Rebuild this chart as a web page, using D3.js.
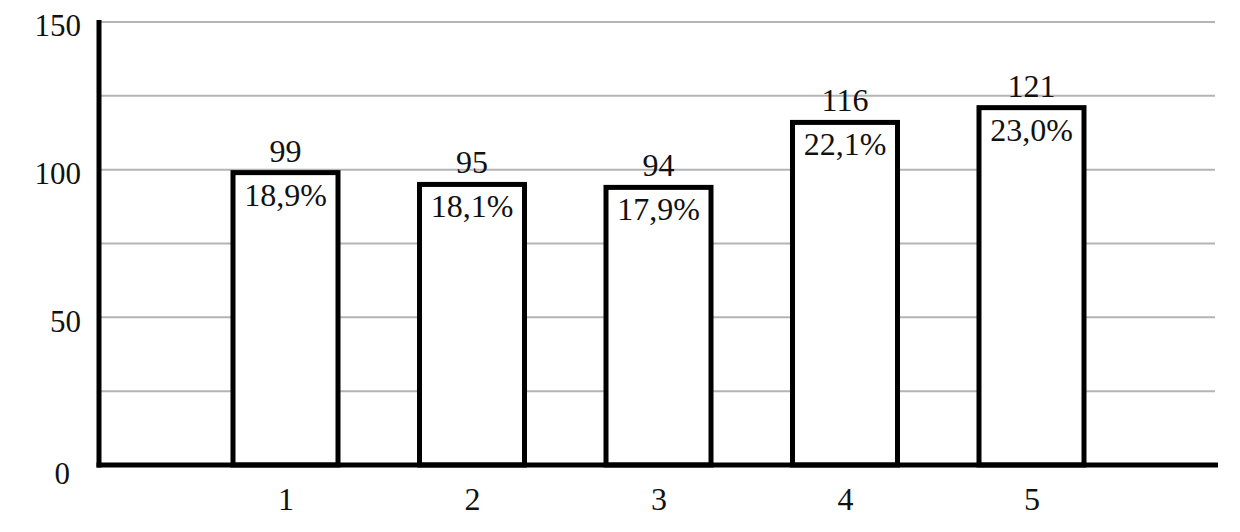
<!DOCTYPE html>
<html>
<head>
<meta charset="utf-8">
<script src="https://cdn.jsdelivr.net/npm/d3@7"></script>
<style>
  body { margin: 0; background: #fff; }
</style>
</head>
<body>
<div id="chart"></div>
<script>
// data
var categories = [1, 2, 3, 4, 5];
var values = [99, 95, 94, 116, 121];
var shares = ["18,9%", "18,1%", "17,9%", "22,1%", "23,0%"];
var yTicks = [0, 50, 100, 150];
var gridTicks = [25, 50, 75, 100, 125, 150];

var serif = "'Liberation Serif', 'DejaVu Serif', serif";

var margin = {top: 22, right: 22, bottom: 67, left: 99},
    width = 1240 - margin.left - margin.right,
    height = 532 - margin.top - margin.bottom;

var x = d3.scaleLinear().domain([0, 6]).range([0, width]);
var y = d3.scaleLinear().domain([0, 150]).range([height, 0]);

var svg = d3.select("#chart").append("svg")
    .attr("width", 1240)
    .attr("height", 532)
  .append("g")
    .attr("transform", "translate(" + margin.left + "," + margin.top + ")");

// gridlines
svg.append("g")
    .selectAll("line")
    .data(gridTicks)
    .enter().append("line")
    .attr("x1", 0)
    .attr("x2", width - 3)
    .attr("y1", function(d) { return y(d); })
    .attr("y2", function(d) { return y(d); })
    .attr("stroke", "#b4b4b4")
    .attr("stroke-width", 2);

var barW = 105;

// bars
svg.append("g")
    .selectAll("rect")
    .data(values)
    .enter().append("rect")
    .attr("x", function(d, i) { return x(categories[i]) - barW / 2; })
    .attr("y", function(d) { return y(d); })
    .attr("width", barW)
    .attr("height", function(d) { return height - y(d); })
    .attr("fill", "#fff")
    .attr("stroke", "#000")
    .attr("stroke-width", 5);

// value labels above bars
svg.append("g")
    .selectAll("text")
    .data(values)
    .enter().append("text")
    .attr("x", function(d, i) { return x(categories[i]); })
    .attr("y", function(d) { return y(d) - 11; })
    .attr("text-anchor", "middle")
    .style("font-family", serif)
    .style("font-size", "32px")
    .style("fill", "#111")
    .text(function(d) { return d; });

// share labels inside bars
svg.append("g")
    .selectAll("text")
    .data(values)
    .enter().append("text")
    .attr("x", function(d, i) { return x(categories[i]); })
    .attr("y", function(d) { return y(d) + 33; })
    .attr("text-anchor", "middle")
    .style("font-family", serif)
    .style("font-size", "32px")
    .style("fill", "#111")
    .text(function(d, i) { return shares[i]; });

// y axis
var yAxis = svg.append("g")
    .attr("font-family", serif)
    .call(d3.axisLeft(y).tickValues(yTicks).tickSize(0).tickPadding(18));
yAxis.select(".domain").remove();
yAxis.selectAll("text")
    .style("font-size", "31px")
    .style("font-family", serif)
    .attr("dy", "0.45em")
    .attr("fill", "#111");
yAxis.selectAll(".tick").filter(function(d) { return d === 0; })
    .select("text").attr("x", -29).attr("dy", "0.6em");

// x axis
var xAxis = svg.append("g")
    .attr("transform", "translate(0," + height + ")")
    .call(d3.axisBottom(x).tickValues(categories).tickFormat(d3.format("d"))
      .tickSize(0).tickPadding(22));
xAxis.select(".domain").remove();
xAxis.selectAll("text")
    .style("font-size", "32px")
    .style("font-family", serif)
    .attr("fill", "#111");

// axis lines
svg.append("line")
    .attr("x1", 0).attr("x2", 0)
    .attr("y1", -2).attr("y2", height + 2.5)
    .attr("stroke", "#000").attr("stroke-width", 5);
svg.append("line")
    .attr("x1", -2.5).attr("x2", width)
    .attr("y1", height).attr("y2", height)
    .attr("stroke", "#000").attr("stroke-width", 5);
</script>
</body>
</html>
